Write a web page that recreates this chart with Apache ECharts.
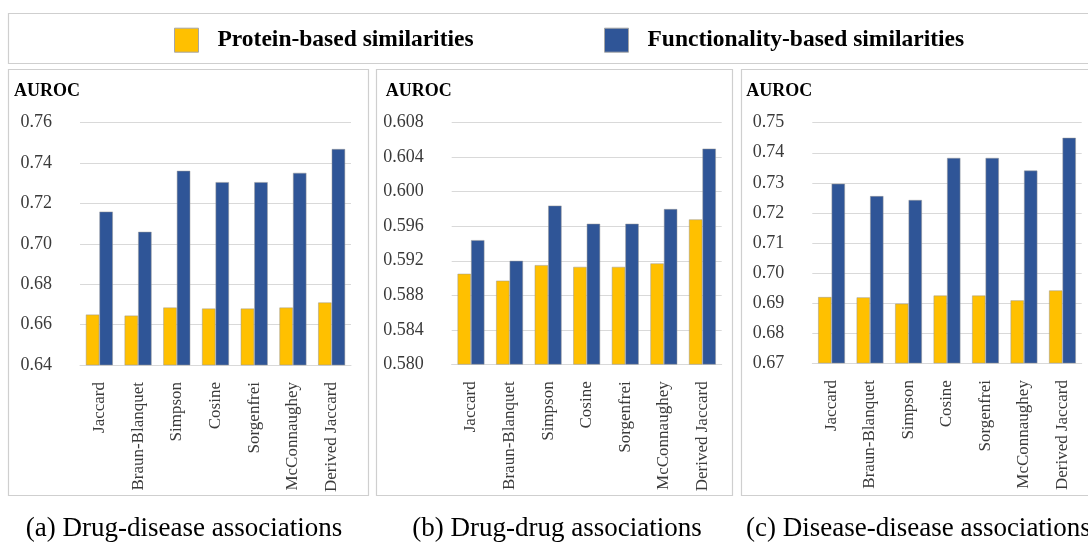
<!DOCTYPE html>
<html>
<head>
<meta charset="utf-8">
<script src="https://cdn.jsdelivr.net/npm/echarts@6/dist/echarts.min.js"></script>
<style>
  html, body { margin: 0; padding: 0; background: #ffffff; }
  #chart { width: 1088px; height: 547px; }
</style>
</head>
<body>
<div id="chart"></div>
<script>
// Similarity measures compared in every panel
const methods = ['Jaccard', 'Braun-Blanquet', 'Simpson', 'Cosine', 'Sorgenfrei', 'McConnaughey', 'Derived Jaccard'];
const seriesNames = ['Protein-based similarities', 'Functionality-based similarities'];
const captions = ['(a) Drug-disease associations', '(b) Drug-drug associations', '(c) Disease-disease associations'];
const axisTitle = 'AUROC';

// AUROC values per measure
const drugDiseaseProtein      = [0.6650, 0.6645, 0.6685, 0.6680, 0.6680, 0.6685, 0.6710];
const drugDiseaseFunctional   = [0.7160, 0.7060, 0.7362, 0.7306, 0.7306, 0.7352, 0.7470];
const drugDrugProtein         = [0.5905, 0.5897, 0.5915, 0.5913, 0.5913, 0.5917, 0.5968];
const drugDrugFunctional      = [0.5944, 0.5920, 0.5984, 0.5963, 0.5963, 0.5980, 0.6050];
const diseaseDiseaseProtein   = [0.6920, 0.6919, 0.6898, 0.6925, 0.6925, 0.6909, 0.6942];
const diseaseDiseaseFunctional= [0.7297, 0.7256, 0.7243, 0.7383, 0.7383, 0.7341, 0.7450];

// Value-axis tick settings per panel: first tick, last tick, step, decimals
const ticksA = { min: 0.64,  max: 0.76,  step: 0.02,  digits: 2 };
const ticksB = { min: 0.580, max: 0.608, step: 0.004, digits: 3 };
const ticksC = { min: 0.67,  max: 0.75,  step: 0.01,  digits: 2 };

const COLORS = ['#FFC000', '#2F5597'];
const SERIF = "'Liberation Serif', 'Times New Roman', serif";

const panels = [
  { grid: { left: 80,    top: 122.7, width: 271,   height: 242.3 }, ticks: ticksA, data: [drugDiseaseProtein, drugDiseaseFunctional] },
  { grid: { left: 451.7, top: 122.7, width: 270,   height: 241.6 }, ticks: ticksB, data: [drugDrugProtein, drugDrugFunctional] },
  { grid: { left: 812.3, top: 122.7, width: 269.4, height: 240.4 }, ticks: ticksC, data: [diseaseDiseaseProtein, diseaseDiseaseFunctional] }
];

const grids = [], xAxes = [], yAxes = [], series = [];
panels.forEach((p, i) => {
  grids.push(Object.assign({ containLabel: false }, p.grid));
  xAxes.push({
    type: 'category', gridIndex: i, data: methods,
    axisLine: { show: true, lineStyle: { color: '#d9d9d9', width: 1 } },
    axisTick: { show: false },
    axisLabel: { rotate: 90, margin: 17, fontFamily: SERIF, fontSize: 17, color: '#3a3a3a', interval: 0 }
  });
  yAxes.push({
    type: 'value', gridIndex: i,
    min: p.ticks.min, max: p.ticks.max, interval: p.ticks.step,
    name: axisTitle, nameLocation: 'end', nameGap: 31,
    nameTextStyle: { fontFamily: SERIF, fontSize: 18, fontWeight: 'bold', color: '#000', align: 'right', verticalAlign: 'middle' },
    axisLine: { show: false }, axisTick: { show: false },
    splitLine: { lineStyle: { color: '#d9d9d9', width: 1 } },
    axisLabel: {
      margin: 28, fontFamily: SERIF, fontSize: 18, color: '#3a3a3a',
      formatter: v => v.toFixed(p.ticks.digits)
    }
  });
  p.data.forEach((vals, s) => {
    series.push({
      type: 'bar', name: seriesNames[s], xAxisIndex: i, yAxisIndex: i,
      data: vals, barGap: '0%', barCategoryGap: '30%',
      itemStyle: { color: COLORS[s], borderColor: 'rgba(150,150,150,0.7)', borderWidth: 0.7 }
    });
  });
});

const legendText = { fontFamily: SERIF, fontSize: 23.5, fontWeight: 'bold', color: '#000', padding: [0, 0, 0, 14] };
const legendItem = { borderColor: '#a6a6a6', borderWidth: 1 };

const frame = { stroke: '#cfcfcf', lineWidth: 1.2, fill: 'none' };

const option = {
  animation: false,
  backgroundColor: '#ffffff',
  grid: grids,
  xAxis: xAxes,
  yAxis: yAxes,
  series: series,
  legend: [
    { data: [seriesNames[0]], left: 174, top: 27.7, padding: 0, itemWidth: 24, itemHeight: 24, icon: 'rect', itemStyle: legendItem, textStyle: legendText },
    { data: [seriesNames[1]], left: 604, top: 27.7, padding: 0, itemWidth: 24, itemHeight: 24, icon: 'rect', itemStyle: legendItem, textStyle: legendText }
  ],
  graphic: [
    { type: 'rect', z: -1, shape: { x: 8.5, y: 13.5, width: 1100, height: 50 }, style: frame, silent: true },
    { type: 'rect', z: -1, shape: { x: 8.5, y: 69.5, width: 360, height: 426 }, style: frame, silent: true },
    { type: 'rect', z: -1, shape: { x: 376.5, y: 69.5, width: 356, height: 426 }, style: frame, silent: true },
    { type: 'rect', z: -1, shape: { x: 741.5, y: 69.5, width: 360, height: 426 }, style: frame, silent: true },
    { type: 'text', style: { text: captions[0], x: 184, y: 542, textAlign: 'center', textVerticalAlign: 'bottom', font: "27px " + SERIF, fill: '#000' } },
    { type: 'text', style: { text: captions[1], x: 557, y: 542, textAlign: 'center', textVerticalAlign: 'bottom', font: "27px " + SERIF, fill: '#000' } },
    { type: 'text', style: { text: captions[2], x: 746, y: 542, textAlign: 'left', textVerticalAlign: 'bottom', font: "27px " + SERIF, fill: '#000' } }
  ]
};

const chart = echarts.init(document.getElementById('chart'), null, { renderer: 'canvas' });
chart.setOption(option);
</script>
</body>
</html>
